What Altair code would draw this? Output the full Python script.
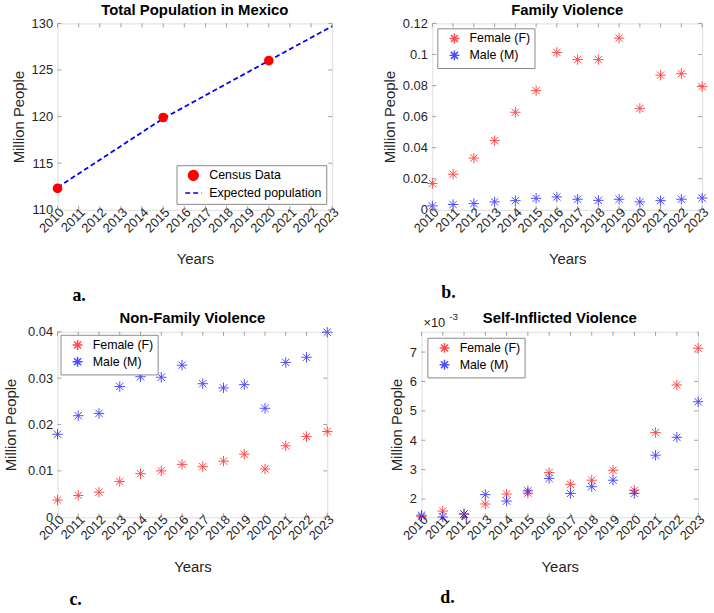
import altair as alt
import pandas as pd

# ---------------- data ----------------
years = list(range(2010, 2024))

census_years = [2010, 2015, 2020]
census_pop = [112.3, 119.9, 126.0]
expected_years = [2010, 2015, 2020, 2023]
expected_pop = [112.4, 119.8, 126.0, 129.7]

family_female = [0.0170, 0.0229, 0.0333, 0.0445, 0.0628, 0.0767, 0.1013,
                 0.0967, 0.0967, 0.1105, 0.0653, 0.0867, 0.0876, 0.0793]
family_male = [0.0025, 0.0034, 0.0040, 0.0051, 0.0059, 0.0074, 0.0083,
               0.0068, 0.0061, 0.0068, 0.0051, 0.0059, 0.0068, 0.0076]

nonfamily_female = [0.0037, 0.0047, 0.0054, 0.0077, 0.0094, 0.0100, 0.0114,
                    0.0109, 0.0121, 0.0136, 0.0104, 0.0154, 0.0174, 0.0185]
nonfamily_male = [0.0179, 0.0219, 0.0224, 0.0282, 0.0303, 0.0302, 0.0328,
                  0.0288, 0.0279, 0.0286, 0.0235, 0.0334, 0.0345, 0.0399]

# self-inflicted, in units of 10^-3 million people
self_female = [1.40, 1.59, 1.49, 1.83, 2.17, 2.20, 2.90,
               2.50, 2.64, 2.98, 2.30, 4.26, 5.88, 7.13]
self_male = [1.45, 1.39, 1.49, 2.15, 1.93, 2.28, 2.70,
             2.19, 2.42, 2.64, 2.19, 3.49, 4.10, 5.31]

series_names = ["Female (F)", "Male (M)"]
pop_series = ["Census Data", "Expected population"]

# ---------------- style ----------------
FONT = "Liberation Sans"
GRAY = "#8a8a8a"
TXT = "#262626"
ASTER = ("M-1,0L1,0M0,-1L0,1M-0.7071,-0.7071L0.7071,0.7071"
         "M-0.7071,0.7071L0.7071,-0.7071")


def title(text, dy=0):
    return alt.TitleParams(text=text, font=FONT, fontSize=15, fontWeight="bold",
                           color="black", offset=-1, dy=dy)


X_AXIS = alt.Axis(values=years, format="d", labelAngle=315,
                  labelAlign="right", labelBaseline="middle",
                  labelPadding=0, labelOffset=4, ticks=False, domain=False,
                  grid=False, titlePadding=17,
                  labelFontSize=13, titleFontSize=15,
                  labelColor=TXT, titleColor=TXT,
                  labelFont=FONT, titleFont=FONT,
                  titleFontWeight="normal", labelOverlap=False)


def y_axis(ticks, fmt, tpad):
    return alt.Axis(values=ticks, format=fmt, ticks=False,
                    domain=False, grid=False, labelPadding=5,
                    titlePadding=tpad, labelFontSize=13,
                    titleFontSize=15, labelColor=TXT,
                    titleColor=TXT, labelFont=FONT,
                    titleFont=FONT, titleFontWeight="normal",
                    labelOverlap=False)


def sc(domain):
    return alt.Scale(domain=domain, nice=False, zero=False)


def x_enc(domain):
    return alt.X("Year:Q", scale=sc(domain), axis=X_AXIS, title="Years")


def y_enc(domain, ticks, fmt, tpad):
    return alt.Y("Value:Q", scale=sc(domain), axis=y_axis(ticks, fmt, tpad),
                 title="Million People")


def inner_ticks(xdomain, ydomain, yticks, fmt, tpad, W, H):
    xt = alt.Chart(pd.DataFrame({"Year": years})).mark_rule(
        color=GRAY, strokeWidth=0.8)
    yt = alt.Chart(pd.DataFrame({"Value": yticks})).mark_rule(
        color=GRAY, strokeWidth=0.8)
    ye = y_enc(ydomain, yticks, fmt, tpad)
    return [
        xt.encode(x=x_enc(xdomain), y=alt.value(H), y2=alt.value(H - 4)),
        xt.encode(x=x_enc(xdomain), y=alt.value(0), y2=alt.value(4)),
        yt.encode(y=ye, x=alt.value(0), x2=alt.value(4)),
        yt.encode(y=ye, x=alt.value(W - 4), x2=alt.value(W)),
    ]


def letter(text, dx, dy, H):
    return alt.Chart(pd.DataFrame({"t": [text]})).mark_text(
        font="Liberation Serif", fontWeight="bold", fontSize=18,
        align="left", baseline="alphabetic", color="black").encode(
        text="t:N", x=alt.value(dx), y=alt.value(H + dy))


def legend(orient, offset, symbol_offset, label_offset, row_pad):
    return alt.Legend(title=None, orient=orient, offset=offset,
                      labelFont=FONT, labelFontSize=12.5, labelColor="black",
                      strokeColor=GRAY, fillColor="white", padding=4,
                      rowPadding=row_pad, symbolOffset=symbol_offset,
                      labelOffset=label_offset)


# ---------------- panel a ----------------
Wa, Ha = 277, 188
xa = [2010, 2023]
ya = [110, 130]
yta = [110, 115, 120, 125, 130]
TPA = 5

exp_df = pd.DataFrame({"Year": expected_years, "Value": expected_pop,
                       "Pop": ["Expected population"] * len(expected_years)})
cen_df = pd.DataFrame({"Year": census_years, "Value": census_pop,
                       "Pop": ["Census Data"] * len(census_years)})

leg_a = legend("bottom-right", 6, 4, 7, 0)
color_pop = alt.Color("Pop:N",
                      scale=alt.Scale(domain=pop_series, range=["#ff0000", "#0000ff"]),
                      legend=leg_a)
line_a = alt.Chart(exp_df).mark_line(strokeWidth=1.8).encode(
    x=x_enc(xa), y=y_enc(ya, yta, "d", TPA),
    color=color_pop,
    strokeDash=alt.StrokeDash("Pop:N",
                              scale=alt.Scale(domain=pop_series, range=[[1, 0], [5, 3]]),
                              legend=leg_a))
pts_a = alt.Chart(cen_df).mark_point(filled=True, opacity=1).encode(
    x=x_enc(xa), y=y_enc(ya, yta, "d", TPA),
    color=color_pop,
    shape=alt.Shape("Pop:N",
                    scale=alt.Scale(domain=pop_series, range=["circle", "stroke"]),
                    legend=leg_a),
    size=alt.Size("Pop:N",
                  scale=alt.Scale(domain=pop_series, range=[95, 270]),
                  legend=leg_a))

panel_a = alt.layer(
    line_a, pts_a, *inner_ticks(xa, ya, yta, "d", TPA, Wa, Ha),
    letter("a.", 15, 92, Ha)
).properties(width=Wa, height=Ha, title=title("Total Population in Mexico"))


# ---------------- scatter panels ----------------
def scatter(ttl, key, female, male, ydomain, yticks, fmt, tpad, W, H,
            orient_offset, lab, ldx, ldy, extra=None, title_dy=0):
    field = "Sex_" + key
    df = pd.DataFrame({"Year": years * 2, "Value": female + male,
                       field: [series_names[0]] * len(years)
                       + [series_names[1]] * len(years)})
    pts = alt.Chart(df).mark_point(shape=ASTER, filled=False, size=110,
                                   strokeWidth=1, opacity=0.7).encode(
        x=x_enc([2010, 2023]), y=y_enc(ydomain, yticks, fmt, tpad),
        color=alt.Color(field + ":N",
                        scale=alt.Scale(domain=series_names, range=["#ff0000", "#0000ff"]),
                        legend=legend("top-left", orient_offset, 7, 9, 0)))
    layers = [pts, *inner_ticks([2010, 2023], ydomain, yticks, fmt, tpad, W, H),
              letter(lab, ldx, ldy, H)]
    if extra:
        layers += extra
    return alt.layer(*layers).properties(width=W, height=H,
                                         title=title(ttl, title_dy))


panel_b = scatter("Family Violence", "b", family_female, family_male,
                  [0, 0.12], [0, 0.02, 0.04, 0.06, 0.08, 0.1, 0.12], ".2~f", 5,
                  272, 188, 5, "b.", 9, 89)

panel_c = scatter("Non-Family Violence", "c", nonfamily_female, nonfamily_male,
                  [0, 0.04], [0, 0.01, 0.02, 0.03, 0.04], ".2~f", 9,
                  272, 187, 3, "c.", 12, 89)

exp_text = [
    alt.Chart(pd.DataFrame({"t": ["\u00d710"]})).mark_text(
        font=FONT, fontSize=13, align="left", baseline="alphabetic",
        color=TXT).encode(text="t:N", x=alt.value(2), y=alt.value(-5)),
    alt.Chart(pd.DataFrame({"t": ["-3"]})).mark_text(
        font=FONT, fontSize=10, align="left", baseline="alphabetic",
        color=TXT).encode(text="t:N", x=alt.value(28), y=alt.value(-12)),
]
panel_d = scatter("Self-Inflicted Violence", "d", self_female, self_male,
                  [1.38, 7.69], [2, 3, 4, 5, 6, 7], "d", 5,
                  279, 187, 6, "d.", 19, 86, extra=exp_text, title_dy=13)

IND = dict(color="independent", shape="independent", size="independent",
           strokeDash="independent")

row1 = alt.hconcat(panel_a, panel_b, spacing=101, bounds="flush").resolve_scale(**IND)
row2 = alt.hconcat(panel_c, panel_d, spacing=95, bounds="flush").resolve_scale(**IND)

chart = alt.vconcat(row1, row2, spacing=4).resolve_scale(**IND).properties(
    padding={"left": 3, "top": 0, "right": 2, "bottom": 2}
).configure_view(stroke=GRAY, strokeWidth=0.8).configure(background="white")

chart.save("out.html", embed_options={"renderer": "svg", "actions": False})
